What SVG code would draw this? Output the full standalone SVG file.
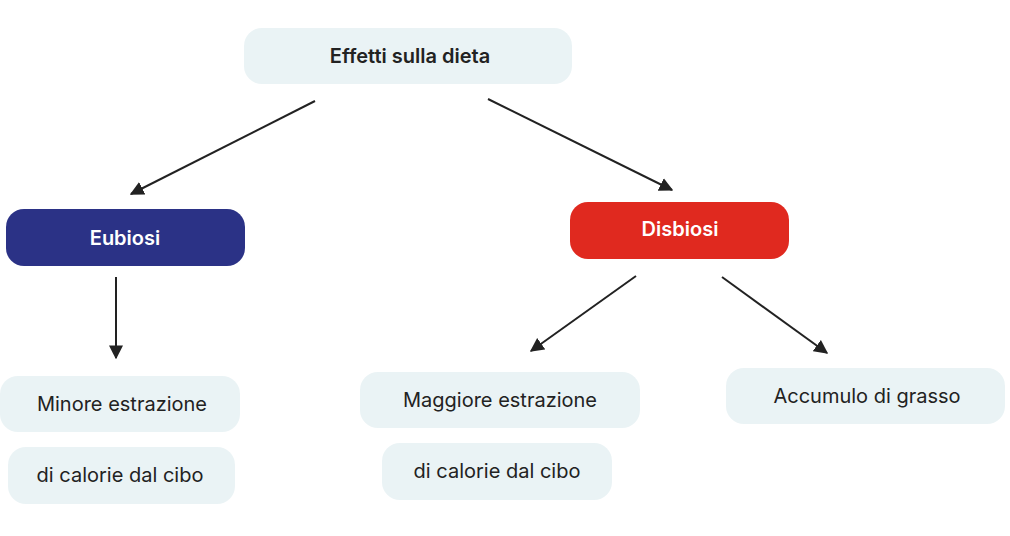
<svg xmlns="http://www.w3.org/2000/svg" width="1010" height="536" viewBox="0 0 1010 536">
<style>
.lt{fill:#eaf3f5}
.t{font-family:Inter,"Liberation Sans",sans-serif;font-size:20px;fill:#222;text-anchor:middle;dominant-baseline:central}
.b{font-weight:600}
.w{fill:#fff}
.c{stroke:#222;stroke-width:2;fill:none;marker-end:url(#ah)}
</style>
<defs><marker id="ah" viewBox="0 0 10 10" refX="9" refY="5" markerWidth="7" markerHeight="7" orient="auto"><path d="M0,0L10,5L0,10z" fill="#222"/></marker></defs>
<rect width="1010" height="536" fill="#fff"/>
<g id="connectors">
<line class="c" x1="315" y1="101" x2="131" y2="194"/>
<line class="c" x1="488" y1="99" x2="672" y2="190"/>
<line class="c" x1="116" y1="277" x2="116" y2="358"/>
<line class="c" x1="636" y1="276" x2="531" y2="351"/>
<line class="c" x1="722" y1="277" x2="827" y2="353"/>
</g>
<g id="n-top"><rect class="lt" x="244" y="28" width="328" height="56" rx="18"/><text class="t b" x="410" y="56">Effetti sulla dieta</text></g>
<g id="n-eubiosi"><rect x="6" y="209" width="239" height="57" rx="18" fill="#2b3286"/><text class="t b w" x="125" y="238">Eubiosi</text></g>
<g id="n-disbiosi"><rect x="570" y="202" width="219" height="57" rx="18" fill="#e0291f"/><text class="t b w" x="680" y="229">Disbiosi</text></g>
<g id="n-minore"><rect class="lt" x="0" y="376" width="240" height="56" rx="18"/><text class="t" x="122" y="404">Minore estrazione</text></g>
<g id="n-calorie1"><rect class="lt" x="8" y="447" width="227" height="57" rx="18"/><text class="t" x="120" y="475">di calorie dal cibo</text></g>
<g id="n-maggiore"><rect class="lt" x="360" y="372" width="280" height="56" rx="18"/><text class="t" x="500" y="400">Maggiore estrazione</text></g>
<g id="n-calorie2"><rect class="lt" x="382" y="443" width="230" height="57" rx="18"/><text class="t" x="497" y="471">di calorie dal cibo</text></g>
<g id="n-accumulo"><rect class="lt" x="726" y="368" width="279" height="56" rx="18"/><text class="t" x="867" y="396">Accumulo di grasso</text></g>
</svg>
